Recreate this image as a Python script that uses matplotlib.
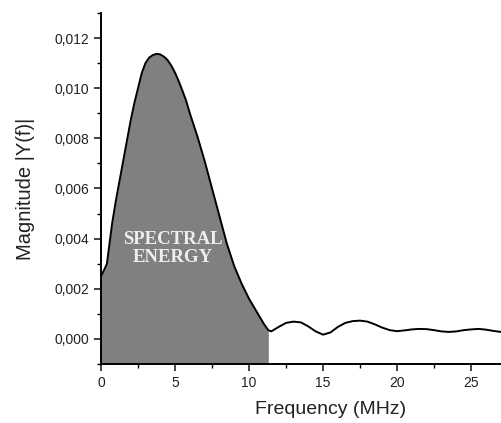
import numpy as np
import matplotlib
matplotlib.use("Agg")
import matplotlib.pyplot as plt
from matplotlib.ticker import MultipleLocator, FuncFormatter

# frequency (MHz) and magnitude |Y(f)|
freq = [0, 0.25, 0.4, 0.75, 1.0, 1.25, 1.5, 1.75, 2.0, 2.25, 2.5, 2.75,
        3.0, 3.25, 3.5, 3.75, 4.0, 4.25, 4.5, 4.75, 5.0, 5.25, 5.5, 5.75,
        6.0, 6.5, 7.0, 7.5, 8.0, 8.5, 9.0, 9.5, 10.0, 10.5, 11.0, 11.3,
        11.5, 12.0, 12.5, 13.0, 13.5, 14.0, 14.5, 15.0, 15.5, 16.0, 16.5,
        17.0, 17.5, 18.0, 18.5, 19.0, 19.5, 20.0, 20.5, 21.0, 21.5, 22.0,
        22.5, 23.0, 23.5, 24.0, 24.5, 25.0, 25.5, 26.0, 26.5, 27.0, 27.5]
mag = [0.0025, 0.0028, 0.0030, 0.0046, 0.0055, 0.0063, 0.0071, 0.0079,
       0.0087, 0.0094, 0.0100, 0.0106, 0.0110, 0.01122, 0.01132, 0.01137,
       0.01135, 0.01126, 0.01112, 0.01090, 0.01062, 0.01028, 0.0099, 0.0095,
       0.0090, 0.0081, 0.0071, 0.0060, 0.0049, 0.0038, 0.0029, 0.0022,
       0.0016, 0.0011, 0.0006, 0.00035, 0.0003, 0.00048, 0.00064, 0.00069,
       0.00066, 0.00050, 0.00030, 0.00017, 0.00026, 0.00048, 0.00064,
       0.00071, 0.00073, 0.00069, 0.00058, 0.00045, 0.00035, 0.00031,
       0.00034, 0.00038, 0.00040, 0.00039, 0.00035, 0.00030, 0.00028,
       0.00030, 0.00035, 0.00038, 0.00040, 0.00037, 0.00032, 0.00028, 0.00027]
energy_cut = 11.3
xticks = [0, 5, 10, 15, 20, 25]

freq = np.array(freq)
mag = np.array(mag)

plt.rcParams['font.family'] = ['Liberation Sans', 'DejaVu Sans']

fig = plt.figure(figsize=(5.01, 4.23), dpi=100)
# axes runs past the right edge of the figure, like the cropped original
ax = fig.add_axes([101 / 501, 59 / 423, 459 / 501, 351 / 423])

ymin = -0.001
mask = freq <= energy_cut
ax.fill_between(freq[mask], mag[mask], ymin, color='#808080', lw=0)
ax.plot(freq, mag, color='black', lw=1.4)

ax.set_xlim(0, 31)
ax.set_ylim(ymin, 0.013)

ax.text(4.83, 0.0036, "SPECTRAL\nENERGY", ha='center', va='center',
        color='#eeeeee', fontsize=13.5, fontweight='bold',
        family='Liberation Serif', linespacing=1.1)

for s in ['top', 'right']:
    ax.spines[s].set_visible(False)
for s in ['left', 'bottom']:
    ax.spines[s].set_linewidth(1.4)

ax.set_xticks(xticks)
ax.set_xticks([2.5, 7.5, 12.5, 17.5, 22.5, 27.5], minor=True)
ax.yaxis.set_major_locator(MultipleLocator(0.002))
ax.yaxis.set_minor_locator(MultipleLocator(0.001))
ax.yaxis.set_major_formatter(FuncFormatter(lambda v, p: f"{v:.3f}".replace('.', ',')))

ax.tick_params(which='major', direction='out', length=5, width=1.2,
               labelsize=10, colors='#222222')
ax.tick_params(which='minor', direction='out', length=3, width=1.0)

ax.set_xlabel("Frequency (MHz)", fontsize=14, labelpad=8, color='#222222')
ax.set_ylabel("Magnitude |Y(f)|", fontsize=14.5, labelpad=14, color='#222222')

fig.savefig("out.png", dpi=100)
